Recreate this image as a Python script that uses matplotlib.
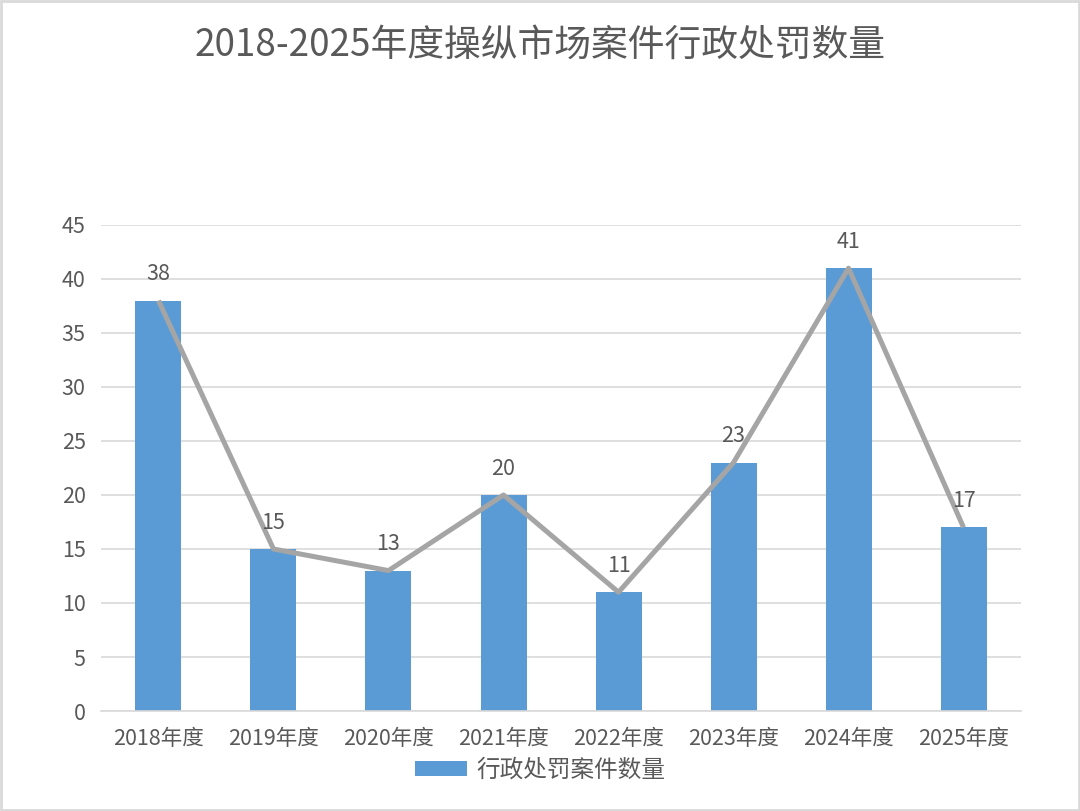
import matplotlib
matplotlib.use("Agg")
import matplotlib.pyplot as plt
from matplotlib.patches import Rectangle

plt.rcParams["font.family"] = ["Noto Sans CJK SC", "DejaVu Sans"]

years = ["2018年度", "2019年度", "2020年度", "2021年度",
         "2022年度", "2023年度", "2024年度", "2025年度"]
counts = [38, 15, 13, 20, 11, 23, 41, 17]
title = "2018-2025年度操纵市场案件行政处罚数量"
series_name = "行政处罚案件数量"

TXT = "#595959"
BAR = "#5B9BD5"
LINE = "#A5A5A5"

fig = plt.figure(figsize=(10.8, 8.11), dpi=100)
ax = fig.add_axes([0.0935, 0.1233, 0.8519, 0.5993])

x = list(range(len(years)))
bars = ax.bar(x, counts, width=0.4, color=BAR, label=series_name, zorder=2)
ax.plot(x, counts, color=LINE, linewidth=3.6, zorder=3, solid_capstyle="butt")

for xi, v in zip(x, counts):
    ax.annotate(str(v), (xi, v), xytext=(0, 11), textcoords="offset points",
                ha="center", va="bottom", fontsize=15.5, color=TXT, zorder=4)

ax.set_xlim(-0.5, len(years) - 0.5)
ax.set_ylim(0, 45)
ax.set_yticks(range(0, 46, 5))
ax.set_xticks(x)
ax.set_xticklabels(years)
ax.tick_params(axis="both", length=0, labelsize=15.5, colors=TXT)
ax.tick_params(axis="y", pad=11)
ax.tick_params(axis="x", pad=12)
ax.grid(axis="y", color="#D9D9D9", linewidth=1.2, zorder=0)
ax.set_axisbelow(True)
for s in ["top", "right", "left"]:
    ax.spines[s].set_visible(False)
ax.spines["bottom"].set_color("#D9D9D9")
ax.spines["bottom"].set_linewidth(1.2)

fig.text(0.5, 0.944, title, ha="center", va="center", fontsize=26.5, color=TXT)

fig.legend(handles=[bars], labels=[series_name], loc="center",
           bbox_to_anchor=(0.5, 0.05), frameon=False, fontsize=17,
           labelcolor=TXT, handlelength=2.2, handleheight=0.6, handletextpad=0.4)

fig.patches.append(Rectangle((0.001, 0.001), 0.998, 0.998, transform=fig.transFigure,
                             fill=False, edgecolor="#D9D9D9", linewidth=2))

fig.savefig("out.png", dpi=100)
